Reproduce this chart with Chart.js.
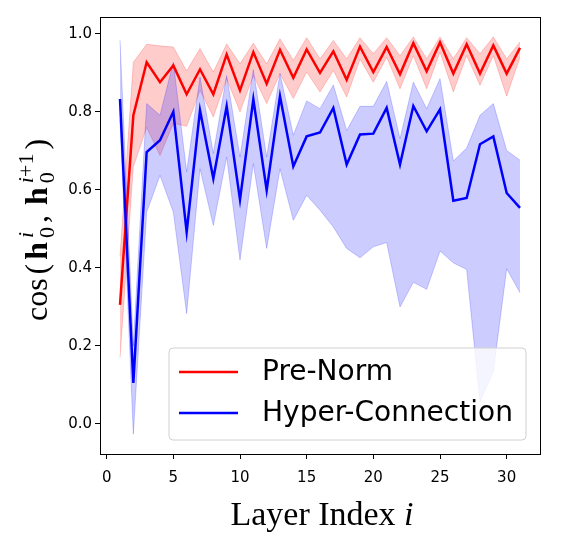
<!DOCTYPE html>
<html>
<head>
<meta charset="utf-8">
<script src="https://cdn.jsdelivr.net/npm/chart.js@4.4.0/dist/chart.umd.min.js"></script>
<style>
  html, body { margin: 0; padding: 0; background: #fff; }
</style>
</head>
<body>
<canvas id="myChart" width="587" height="546"></canvas>
<script>
// layer index on x
const layers = [1, 2, 3, 4, 5, 6, 7, 8, 9, 10, 11, 12, 13, 14, 15, 16, 17, 18, 19, 20, 21, 22, 23, 24, 25, 26, 27, 28, 29, 30, 31];

// Pre-Norm: mean and band
const preNorm = [0.305, 0.791, 0.927, 0.876, 0.919, 0.845, 0.909, 0.845, 0.947, 0.855, 0.953, 0.872, 0.959, 0.887, 0.960, 0.900,
  0.955, 0.882, 0.967, 0.902, 0.966, 0.896, 0.976, 0.904, 0.978, 0.898, 0.973, 0.898, 0.970, 0.898, 0.964];
const preNormHi = [0.43, 0.927, 0.973, 0.969, 0.966, 0.905, 0.962, 0.902, 0.974, 0.923, 0.976, 0.923, 0.987, 0.932, 0.99, 0.936,
  0.983, 0.936, 0.99, 0.949, 0.99, 0.944, 0.992, 0.936, 0.992, 0.936, 0.99, 0.949, 0.992, 0.936, 0.979];
const preNormLo = [0.17, 0.659, 0.76, 0.688, 0.77, 0.763, 0.855, 0.787, 0.885, 0.80, 0.893, 0.821, 0.898, 0.834, 0.902, 0.851,
  0.906, 0.838, 0.935, 0.876, 0.94, 0.859, 0.944, 0.859, 0.953, 0.851, 0.944, 0.868, 0.944, 0.84, 0.94];

// Hyper-Connection: mean and band
const hyperConn = [0.833, 0.105, 0.697, 0.727, 0.80, 0.492, 0.804, 0.629, 0.814, 0.575, 0.832, 0.599, 0.840, 0.660, 0.737, 0.747,
  0.81, 0.665, 0.742, 0.744, 0.81, 0.665, 0.815, 0.75, 0.806, 0.572, 0.579, 0.717, 0.737, 0.592, 0.554];
const hyperHi = [0.983, 0.20, 0.821, 0.791, 0.927, 0.646, 0.889, 0.693, 0.893, 0.684, 0.908, 0.684, 0.898, 0.74, 0.828, 0.808,
  0.869, 0.752, 0.814, 0.814, 0.878, 0.731, 0.876, 0.808, 0.885, 0.674, 0.707, 0.791, 0.821, 0.701, 0.676];
const hyperLo = [0.78, -0.026, 0.543, 0.637, 0.543, 0.283, 0.654, 0.509, 0.684, 0.42, 0.667, 0.45, 0.654, 0.522, 0.586, 0.548,
  0.505, 0.45, 0.426, 0.454, 0.465, 0.30, 0.363, 0.345, 0.443, 0.413, 0.396, 0.057, 0.134, 0.398, 0.336];

const xTicks = [0, 5, 10, 15, 20, 25, 30];
const yTicks = [0.0, 0.2, 0.4, 0.6, 0.8, 1.0];
const seriesNames = ["Pre-Norm", "Hyper-Connection"];

function pts(arr) {
  return layers.map((l, i) => ({ x: l, y: arr[i] }));
}

const RED = "#ff0000";
const BLUE = "#0000ff";

// legend, frame and math axis titles
const extras = {
  id: "extras",
  afterDatasetsDraw(chart) {
    const ctx = chart.ctx;
    const a = chart.chartArea;
    const bx = a.left + 69, by = a.top + 331, bw = 357, bh = 92;
    ctx.save();
    ctx.beginPath();
    ctx.roundRect(bx, by, bw, bh, 4);
    ctx.fillStyle = "rgba(255,255,255,0.8)";
    ctx.fill();
    ctx.strokeStyle = "#d0d0d0";
    ctx.lineWidth = 1;
    ctx.stroke();
    const cols = [RED, BLUE];
    const rows = [by + 24, by + 65];
    ctx.font = '28px "DejaVu Sans"';
    ctx.textBaseline = "middle";
    ctx.fillStyle = "#000";
    rows.forEach((yy, i) => {
      ctx.beginPath();
      ctx.moveTo(bx + 10, yy);
      ctx.lineTo(bx + 69, yy);
      ctx.strokeStyle = cols[i];
      ctx.lineWidth = 2.5;
      ctx.stroke();
      ctx.fillText(seriesNames[i], bx + 93, yy + 1);
    });
    ctx.restore();
  },
  afterDraw(chart) {
    const ctx = chart.ctx;
    const a = chart.chartArea;
    ctx.save();
    ctx.strokeStyle = "#000";
    ctx.lineWidth = 1;
    ctx.strokeRect(Math.round(a.left) + 0.5, Math.round(a.top) + 0.5, Math.round(a.right - a.left), Math.round(a.bottom - a.top));

    // x title
    ctx.fillStyle = "#000";
    ctx.textBaseline = "alphabetic";
    const f1 = '34px "Liberation Serif"', f2 = 'italic 34px "Liberation Serif"';
    ctx.font = f1;
    const w1 = ctx.measureText("Layer Index ").width;
    ctx.font = f2;
    const w2 = ctx.measureText("i").width;
    let xs = 322 - (w1 + w2) / 2;
    ctx.font = f1;
    ctx.fillText("Layer Index ", xs, 525);
    ctx.font = f2;
    ctx.fillText("i", xs + w1, 525);

    // y title: cos(h_0^i, h_0^{i+1})
    const big = '32px "Liberation Serif"', bold = 'bold 32px "Liberation Serif"';
    const sm = '22px "Liberation Serif"', smi = 'italic 22px "Liberation Serif"';
    const gap = 4;
    const parts = [
      { t: "cos", f: big, dy: 0 },
      { t: "(", f: big, dy: 0 },
      { t: "h", f: bold, dy: 0 },
      { stack: [{ t: "0", f: sm, dy: 7 }, [{ t: "i", f: smi, dy: -14 }]] },
      { t: ",", f: big, dy: 0 },
      { t: "h", f: bold, dy: 0 },
      { stack: [{ t: "0", f: sm, dy: 7 }, [{ t: "i", f: smi, dy: -14 }, { t: "+1", f: sm, dy: -14 }]] },
      { t: ")", f: big, dy: 0 }
    ];
    const width = (p) => {
      if (p.stack) {
        ctx.font = p.stack[0].f;
        const ws = ctx.measureText(p.stack[0].t).width;
        let wu = 0;
        p.stack[1].forEach((q) => { ctx.font = q.f; wu += ctx.measureText(q.t).width; });
        return Math.max(ws, wu);
      }
      ctx.font = p.f;
      return ctx.measureText(p.t).width;
    };
    const total = parts.reduce((s, p) => s + width(p), 0) + gap * (parts.length - 1) + 6;
    ctx.translate(47, 230);
    ctx.rotate(-Math.PI / 2);
    let u = -total / 2;
    parts.forEach((p) => {
      const w = width(p);
      if (p.stack) {
        ctx.font = p.stack[0].f;
        ctx.fillText(p.stack[0].t, u, p.stack[0].dy);
        let uu = u;
        p.stack[1].forEach((q) => {
          ctx.font = q.f;
          ctx.fillText(q.t, uu, q.dy);
          uu += ctx.measureText(q.t).width;
        });
      } else {
        ctx.font = p.f;
        ctx.fillText(p.t, u, p.dy);
      }
      u += w + gap + (p.t === "," ? 6 : 0);
    });
    ctx.restore();
  }
};

const band = (col) => ({
  pointRadius: 0,
  borderWidth: 1,
  borderColor: col,
  backgroundColor: col,
  tension: 0
});

const ctx = document.getElementById("myChart").getContext("2d");
const chart = new Chart(ctx, {
  type: "line",
  data: {
    datasets: [
      { label: seriesNames[1], data: pts(hyperConn), borderColor: BLUE, borderWidth: 2.5, pointRadius: 0, fill: false, order: 0 },
      { label: seriesNames[0], data: pts(preNorm), borderColor: RED, borderWidth: 2.5, pointRadius: 0, fill: false, order: 1 },
      Object.assign({ label: "hc-hi", data: pts(hyperHi), fill: "+1", order: 2 }, band("rgba(0,0,255,0.2)")),
      Object.assign({ label: "hc-lo", data: pts(hyperLo), fill: false, order: 2 }, band("rgba(0,0,255,0.2)")),
      Object.assign({ label: "pn-hi", data: pts(preNormHi), fill: "+1", order: 3 }, band("rgba(255,0,0,0.2)")),
      Object.assign({ label: "pn-lo", data: pts(preNormLo), fill: false, order: 3 }, band("rgba(255,0,0,0.2)"))
    ]
  },
  options: {
    responsive: false,
    animation: false,
    layout: { padding: { left: 0, right: 47, top: 17, bottom: 0 } },
    plugins: {
      legend: { display: false },
      tooltip: { enabled: false }
    },
    scales: {
      x: {
        type: "linear",
        min: -0.5,
        max: 32.5,
        afterBuildTicks: (s) => { s.ticks = xTicks.map((v) => ({ value: v })); },
        afterFit: (s) => { s.height = 92; },
        grid: { drawOnChartArea: false, drawTicks: true, tickLength: 5, color: "#000" },
        border: { display: true, color: "#000", width: 1 },
        ticks: { padding: 10, color: "#000", font: { family: "DejaVu Sans", size: 15 }, maxRotation: 0 }
      },
      y: {
        min: -0.077,
        max: 1.043,
        afterBuildTicks: (s) => { s.ticks = yTicks.map((v) => ({ value: v })); },
        afterFit: (s) => { s.width = 100; },
        grid: { drawOnChartArea: false, drawTicks: true, tickLength: 5, color: "#000" },
        border: { display: true, color: "#000", width: 1 },
        ticks: { padding: 3, color: "#000", font: { family: "DejaVu Sans", size: 15 }, callback: (v) => v.toFixed(1) }
      }
    }
  },
  plugins: [extras]
});
</script>
</body>
</html>
